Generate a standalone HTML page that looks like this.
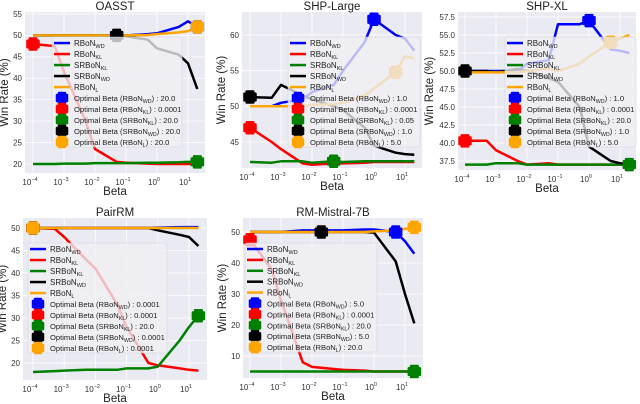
<!DOCTYPE html>
<html><head><meta charset="utf-8"><style>
body{margin:0;background:#fff;}
svg{display:block;font-family:"Liberation Sans",sans-serif;}
</style></head><body>
<svg id="fig" width="640" height="404" viewBox="0 0 640 404" xmlns="http://www.w3.org/2000/svg"></svg>
<script>
const betas = [1e-4,5e-4,1e-3,5e-3,1e-2,5e-2,1e-1,5e-1,1,5,10,20];
const seriesNames = ['RBoN_WD','RBoN_KL','SRBoN_KL','SRBoN_WD','RBoN_L'];
const colors = ['#0000ff','#ff0000','#008000','#000000','#ffa500'];
const oasstVals = [
 [50,50,50,50,50,50,50,50.3,50.5,52,53.3,52],
 [48,47.5,41.5,30,23.5,20.5,20.3,20.1,20,20,20,20],
 [20,20,20.1,20.1,20.2,20.2,20.2,20.3,20.3,20.4,20.5,20.5],
 [50,50,50,50,50,50,49.8,49,47,45.5,43.5,37.5],
 [50,50,50,50,50,50,50,50.1,50.3,50.7,51,52]];
const oasstMarkers = [[20,52],[1e-4,48],[20,20.5],[0.05,50],[20,52]];
const oasstOpt = ['20.0','0.0001','20.0','20.0','20.0'];
const shplVals = [
 [50,50,50.5,51,52,53,55,59,62.2,60,59.5,57.8],
 [47,45,44,42,41.8,42,42,42.1,42.2,42.2,42.2,42.2],
 [42.2,42.1,42.3,42.3,42.1,42.3,42.2,42.3,42.3,42.3,42.3,42.3],
 [51.3,51.2,53,51.5,51,50,49.5,47,44.5,43.5,43.3,43.2],
 [50,50,50,50,50.2,50.3,50.5,51.5,52.5,54.8,57,56.7]];
const shplMarkers = [[1,62.2],[1e-4,47],[0.05,42.3],[1e-4,51.3],[5,54.8]];
const shplOpt = ['1.0','0.0001','0.05','1.0','5.0'];
const shpxVals = [
 [50,50,50,50,51,51.5,56.5,56.5,57,53,52.8,52.5],
 [40.3,40.3,39,37.5,37,37.2,37,37,37,37,37,37],
 [37,37,37.2,37.2,37,37,37,37,37,37,37,37],
 [50,50,49.8,50.3,50,49,48.5,45,39.5,37.5,37.2,37],
 [49.8,49.8,49.8,49.8,50,50.3,50,51,52,54,54.5,55]];
const shpxMarkers = [[1,57],[1e-4,40.3],[20,37],[1e-4,50],[5,54]];
const shpxOpt = ['1.0','0.0001','20.0','1.0','5.0'];
const pairVals = [
 [50,50,50,50,50,50,50,50,50.1,50.2,50.2,50.2],
 [50,49.8,48,43,41,33,28,20,19.5,18.8,18.5,18.3],
 [18,18.2,18.3,18.5,18.5,18.5,18.8,18.8,19.2,25,28,30.5],
 [50,50,50,50,50,50,50,50,49.5,48.5,48,46],
 [50,50,50,50,50,50,50,50,50,50,50,50]];
const pairMarkers = [[1e-4,50],[1e-4,50],[20,30.5],[1e-4,50],[1e-4,50]];
const pairOpt = ['0.0001','0.0001','20.0','0.0001','0.0001'];
const mistVals = [
 [50,50,50,50.5,50.5,50.5,50.5,50.8,50.8,50,47,43],
 [47.5,38,28,8,6.5,5.8,5.5,5.3,5,5,5,5],
 [5,5,5,5,5,5,5,5,5,5,5,5],
 [50,50,50,50,50,50,50,50,49.8,40.5,30,20.5],
 [50,50,50,50,50,50,50,50,50.2,50.5,51,51.5]];
const mistMarkers = [[5,50],[1e-4,47.5],[20,5],[0.02,50],[20,51.5]];
const mistOpt = ['5.0','0.0001','20.0','5.0','20.0'];
const yTicksOasst = [20,25,30,35,40,45,50,55];
const yTicksShpl = [45,50,55,60];
const yTicksShpx = [37.5,40,42.5,45,47.5,50,52.5,55,57.5];
const yTicksPair = [20,25,30,35,40,45,50];
const yTicksMist = [10,20,30,40,50];
const xTickExps = [-4,-3,-2,-1,0,1];

const NS='http://www.w3.org/2000/svg';
const fig=document.getElementById('fig');
function el(tag,attrs,parent){const e=document.createElementNS(NS,tag);for(const k in attrs)e.setAttribute(k,attrs[k]);(parent||fig).appendChild(e);return e;}

const panels=[
 {title:'OASST',name:'oasst',vals:oasstVals,mk:oasstMarkers,opt:oasstOpt,yt:yTicksOasst,
  L:25,R:205,T:12,B:173,x0:33,x1:188,ya:[20,164],yb:[55,14],fmt:0,lg:[52,37,130,110]},
 {title:'SHP-Large',name:'shp-large',vals:shplVals,mk:shplMarkers,opt:shplOpt,yt:yTicksShpl,
  L:242,R:422,T:12,B:168,x0:250,x1:405,ya:[45,142],yb:[60,35],fmt:0,lg:[288,37,132,110]},
 {title:'SHP-XL',name:'shp-xl',vals:shpxVals,mk:shpxMarkers,opt:shpxOpt,yt:yTicksShpx,
  L:458,R:636,T:12,B:170,x0:465,x1:620,ya:[37.5,161],yb:[57.5,17],fmt:1,lg:[505,37,131,110]},
 {title:'PairRM',name:'pairrm',vals:pairVals,mk:pairMarkers,opt:pairOpt,yt:yTicksPair,
  L:23,R:207,T:218,B:380,x0:33,x1:189,ya:[20,363],yb:[50,228],fmt:0,lg:[28,243,139,110]},
 {title:'RM-Mistral-7B',name:'rm-mistral-7b',vals:mistVals,mk:mistMarkers,opt:mistOpt,yt:yTicksMist,
  L:243,R:423,T:218,B:378,x0:250,x1:405,ya:[10,356],yb:[50,232],fmt:0,lg:[245,243,132,109]}
];

function label(g,x,y,base,sub,size,rest){
  const t=el('text',{x:x,y:y,'font-size':size,fill:'#222'},g);
  t.appendChild(document.createTextNode(base));
  const s=el('tspan',{'font-size':size*0.7,dy:2},t);s.textContent=sub;
  if(rest){const r=el('tspan',{dy:-2},t);r.textContent=rest;}
  return t;
}
function marker(g,cx,cy,color,s){
  const a=s*0.3,b=s*0.5;
  const pts=[[-a,-b],[a,-b],[a,-a],[b,-a],[b,a],[a,a],[a,b],[-a,b],[-a,a],[-b,a],[-b,-a],[-a,-a]];
  const p=el('polygon',{points:pts.map(q=>(cx+q[0])+','+(cy+q[1])).join(' '),fill:color,stroke:color,'stroke-width':2.5,'stroke-linejoin':'round'},g);
  return p;
}
const subs=['WD','KL','KL','WD','L'];
const bases=['RBoN','RBoN','SRBoN','SRBoN','RBoN'];

panels.forEach(P=>{
  const g=el('g',{});
  
  
  const xs=v=>P.x0+(Math.log10(v)+4)*(P.x1-P.x0)/5;
  const ys=v=>P.ya[1]+(v-P.ya[0])*(P.yb[1]-P.ya[1])/(P.yb[0]-P.ya[0]);
  const bg=el('rect',{x:P.L,y:P.T,width:P.R-P.L,height:P.B-P.T,fill:'#eaeaf2'},g);
  
  xTickExps.forEach(e=>{
    const x=P.x0+(e+4)*(P.x1-P.x0)/5;
    el('line',{x1:x,x2:x,y1:P.T,y2:P.B,stroke:'#fff','stroke-width':0.8},g);
    const t=el('text',{x:x-3,y:P.B+12,'font-size':8,fill:'#333','text-anchor':'middle'},g);
    t.textContent='10';
    const sp=el('tspan',{'font-size':5.5,dy:-4},t);sp.textContent=(e<0?'\u22124'.replace('4',String(-e)):String(e));
    
  });
  P.yt.forEach(v=>{
    const y=ys(v);
    el('line',{x1:P.L,x2:P.R,y1:y,y2:y,stroke:'#fff','stroke-width':0.8},g);
    const t=el('text',{x:P.L-3,y:y+2.8,'font-size':8,fill:'#333','text-anchor':'end'},g);
    t.textContent=P.fmt?v.toFixed(1):String(v);
    
  });
  const tt=el('text',{x:(P.L+P.R)/2,y:P.T-2,'font-size':11.5,fill:'#222','text-anchor':'middle'},g);
  tt.textContent=P.title;
  const xl=el('text',{x:(P.L+P.R)/2,y:P.B+22,'font-size':11.5,fill:'#222','text-anchor':'middle'},g);
  xl.textContent='Beta';
  const ycx=P.L-(P.fmt?25:17);
  const yl=el('text',{x:ycx,y:(P.T+P.B)/2,'font-size':11.5,fill:'#222','text-anchor':'middle',transform:'rotate(-90 '+ycx+' '+(P.T+P.B)/2+')'},g);
  yl.textContent='Win Rate (%)';
  P.vals.forEach((arr,i)=>{
    const d=arr.map((v,j)=>(j?'L':'M')+xs(betas[j]).toFixed(1)+','+ys(v).toFixed(1)).join('');
    const p=el('path',{d:d,fill:'none',stroke:colors[i],'stroke-width':2.5,'stroke-linejoin':'round'},g);
    
    
  });
  P.mk.forEach((m,i)=>{
    const p=marker(g,xs(m[0]),ys(m[1]),colors[i],11);
    
    
  });
  const [lx,ly,lw,lh]=P.lg;
  const lg=el('g',{},g);
  
  el('rect',{x:lx,y:ly,width:lw,height:lh,rx:2,fill:'rgba(238,238,244,0.78)',stroke:'#d4d4dc','stroke-width':0.6},lg);
  const step=lh/10;
  for(let i=0;i<5;i++){
    const y=ly+step*(i+0.55);
    el('line',{x1:lx+2,x2:lx+18,y1:y,y2:y,stroke:colors[i],'stroke-width':2.5},lg);
    const t=label(lg,lx+22,y+3,bases[i],subs[i],8);
    
  }
  for(let i=0;i<5;i++){
    const y=ly+step*(i+5.55);
    marker(lg,lx+10,y,colors[i],10);
    const t=label(lg,lx+22,y+3,'Optimal Beta ('+bases[i],subs[i],7.6,') : '+P.opt[i]);
    
  }
});
</script>
</body></html>
